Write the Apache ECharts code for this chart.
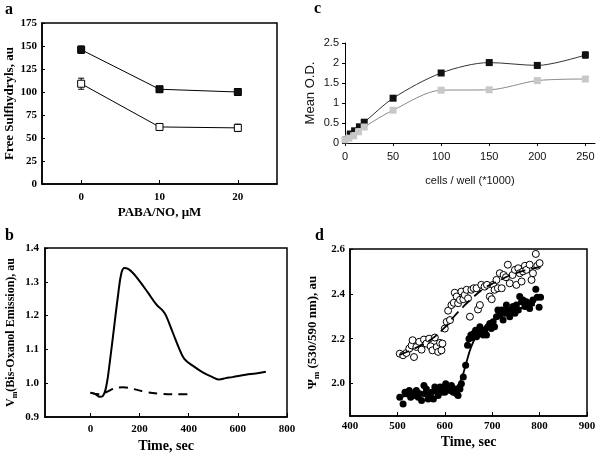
<!DOCTYPE html>
<html><head><meta charset="utf-8">
<script src="https://cdn.jsdelivr.net/npm/echarts@6/dist/echarts.min.js"></script>
<style>html,body{margin:0;padding:0;background:#fff}#c{width:600px;height:454px}</style>
</head><body><div id="c"></div>
<script>
// ---- Panel a ----
const aX = [0, 10, 20];
const aFilled = [146, 103, 100];
const aFilledErr = [4, 3, 3];
const aOpen = [109, 62, 61];
const aOpenErr = [6, 3, 4];
const aXTicks = [0, 10, 20];

// ---- Panel c ----
const cBlackX = [0, 4.5, 9, 14, 20, 50, 100, 150, 200, 250];
const cBlack = [0.1, 0.25, 0.33, 0.43, 0.52, 1.12, 1.75, 2.01, 1.94, 2.2];
const cBlackErr = [0, 0, 0, 0, 0, 0.04, 0.05, 0.07, 0.07, 0.08];
const cGrayX = [0, 4, 9, 14, 20, 50, 100, 150, 200, 250];
const cGray = [0.08, 0.12, 0.18, 0.28, 0.4, 0.82, 1.32, 1.33, 1.56, 1.6];
const cXTicks = [0, 50, 100, 150, 200, 250];

// ---- Panel b ----
const bSolidX = [0, 20, 38, 50, 65, 80, 92, 112, 126, 139, 153, 173, 200, 234, 268, 295, 308, 335, 362, 382, 416, 457, 497, 524, 551, 578, 632, 673, 714];
const bSolid = [0.972, 0.968, 0.960, 0.962, 0.993, 1.07, 1.14, 1.258, 1.326, 1.341, 1.338, 1.326, 1.302, 1.268, 1.233, 1.214, 1.199, 1.15, 1.101, 1.072, 1.052, 1.032, 1.018, 1.011, 1.015, 1.018, 1.025, 1.029, 1.034];
const bDashX = [0, 38, 65, 99, 132, 173, 227, 281, 335, 400];
const bDash = [0.972, 0.967, 0.974, 0.985, 0.988, 0.983, 0.974, 0.969, 0.967, 0.967];
const bXTicks = [0, 200, 400, 600, 800];

// ---- Panel d ----
const dOpenX = [505, 512, 519, 525, 530, 532, 535, 540, 546, 551, 556, 561, 567, 570, 574, 579, 583, 586, 590, 593, 595, 600, 604, 607, 611, 614, 619, 621, 625, 628, 632, 635, 639, 642, 646, 649, 653, 656, 661, 667, 670, 674, 677, 684, 689, 695, 699, 702, 705, 709, 712, 716, 720, 724, 729, 733, 737, 743, 748, 751, 755, 758, 762, 765, 769, 772, 779, 783, 786, 792, 795, 800];
const dOpen = [2.133, 2.126, 2.136, 2.156, 2.17, 2.193, 2.118, 2.163, 2.186, 2.151, 2.196, 2.178, 2.2, 2.166, 2.148, 2.205, 2.163, 2.141, 2.181, 2.148, 2.178, 2.245, 2.275, 2.325, 2.283, 2.35, 2.36, 2.405, 2.388, 2.358, 2.373, 2.41, 2.376, 2.395, 2.418, 2.38, 2.298, 2.418, 2.425, 2.425, 2.33, 2.35, 2.44, 2.432, 2.44, 2.388, 2.376, 2.44, 2.418, 2.462, 2.425, 2.492, 2.425, 2.484, 2.474, 2.53, 2.447, 2.484, 2.507, 2.44, 2.514, 2.492, 2.455, 2.5, 2.525, 2.507, 2.53, 2.462, 2.492, 2.578, 2.525, 2.537];
const dFilledX = [505, 512, 516, 519, 525, 528, 533, 537, 540, 544, 547, 551, 556, 558, 561, 565, 569, 572, 576, 579, 583, 586, 590, 593, 597, 600, 602, 607, 611, 614, 618, 621, 625, 628, 632, 635, 639, 644, 648, 651, 655, 658, 661, 665, 667, 670, 674, 677, 681, 684, 688, 691, 695, 698, 702, 705, 709, 712, 716, 720, 723, 727, 730, 733, 737, 741, 744, 748, 751, 755, 758, 762, 765, 769, 772, 776, 779, 783, 786, 792, 795, 799, 802];
const dFilled = [1.939, 1.909, 1.961, 1.954, 1.969, 1.939, 1.957, 1.946, 1.969, 1.939, 1.954, 1.924, 1.991, 1.954, 1.976, 1.931, 1.946, 1.961, 1.931, 1.984, 1.966, 1.946, 1.984, 1.961, 1.984, 1.961, 1.999, 1.984, 1.969, 1.991, 1.961, 1.976, 1.954, 1.946, 1.976, 1.999, 2.029, 2.081, 2.171, 2.2, 2.216, 2.205, 2.223, 2.238, 2.208, 2.231, 2.253, 2.223, 2.216, 2.238, 2.216, 2.253, 2.268, 2.245, 2.275, 2.253, 2.298, 2.328, 2.305, 2.328, 2.283, 2.313, 2.35, 2.328, 2.298, 2.32, 2.343, 2.313, 2.35, 2.328, 2.388, 2.365, 2.373, 2.343, 2.365, 2.35, 2.335, 2.36, 2.373, 2.42, 2.385, 2.34, 2.385];
const dOpenFitX = [505, 540, 570, 600, 620, 640, 660, 680, 700, 720, 740, 770, 800];
const dOpenFit = [2.128, 2.16, 2.195, 2.25, 2.3, 2.345, 2.385, 2.42, 2.445, 2.465, 2.485, 2.505, 2.52];
const dFilledFitX = [505, 540, 580, 610, 625, 635, 645, 655, 665, 680, 700, 720, 750, 790];
const dFilledFit = [1.94, 1.95, 1.96, 1.97, 1.985, 2.02, 2.09, 2.16, 2.205, 2.245, 2.28, 2.305, 2.33, 2.35];
const dYTicks = [2.0, 2.2, 2.4, 2.6];

const zip = (xs, ys) => xs.map((x, i) => [x, ys[i]]);
const SERIF = '"Liberation Serif", "Times New Roman", serif';
const SANS = '"Liberation Sans", Arial, sans-serif';

function errBars(xi, yi, xs, ys, es, cap, color) {
  return {
    type: 'custom', xAxisIndex: xi, yAxisIndex: yi, z: 1,
    data: xs.map((x, i) => [x, ys[i], es[i]]),
    renderItem: (params, api) => {
      const x = api.value(0), y = api.value(1), e = api.value(2);
      const p1 = api.coord([x, y - e]), p2 = api.coord([x, y + e]);
      return { type: 'group', children: [
        { type: 'line', shape: { x1: p1[0], y1: p1[1], x2: p2[0], y2: p2[1] }, style: { stroke: color, lineWidth: 1 } },
        { type: 'line', shape: { x1: p1[0] - cap, y1: p1[1], x2: p1[0] + cap, y2: p1[1] }, style: { stroke: color, lineWidth: 1 } },
        { type: 'line', shape: { x1: p2[0] - cap, y1: p2[1], x2: p2[0] + cap, y2: p2[1] }, style: { stroke: color, lineWidth: 1 } }
      ] };
    }
  };
}

const serifLabel = { fontFamily: SERIF, fontWeight: 'bold', fontSize: 11, color: '#000' };
const serifName = { fontFamily: SERIF, fontWeight: 'bold', fontSize: 13, color: '#000' };
const blackLine = { onZero: false, lineStyle: { color: '#000', width: 1.5 } };
const rich = (fs) => ({
  a: { fontFamily: SERIF, fontWeight: 'bold', fontSize: fs, color: '#000' },
  s: { fontFamily: SERIF, fontWeight: 'bold', fontSize: fs - 4, color: '#000', padding: [8, 0, 0, 0] }
});

const chart = echarts.init(document.getElementById('c'));
chart.setOption({
  backgroundColor: '#fff',
  animation: false,
  graphic: [
    { type: 'text', left: 5, top: 2, style: { text: 'a', font: 'bold 16px ' + SERIF, fill: '#000' } },
    { type: 'text', left: 314, top: 1, style: { text: 'c', font: 'bold 16px ' + SERIF, fill: '#000' } },
    { type: 'text', left: 5, top: 228, style: { text: 'b', font: 'bold 16px ' + SERIF, fill: '#000' } },
    { type: 'text', left: 315, top: 228, style: { text: 'd', font: 'bold 16px ' + SERIF, fill: '#000' } }
  ],
  grid: [
    { left: 42, top: 23, width: 235, height: 161, show: true, borderColor: '#000', borderWidth: 1.5 },
    { left: 345, top: 43, width: 250, height: 100 },
    { left: 45, top: 248, width: 242, height: 170, show: true, borderColor: '#000', borderWidth: 1.5 },
    { left: 350, top: 249, width: 237, height: 167, show: true, borderColor: '#000', borderWidth: 1.5 }
  ],
  xAxis: [
    { gridIndex: 0, type: 'value', min: -5, max: 25, splitLine: { show: false }, axisLine: blackLine,
      axisTick: { inside: true, length: 4, customValues: aXTicks, lineStyle: { color: '#000' } },
      axisLabel: Object.assign({ customValues: aXTicks, margin: 8 }, serifLabel),
      name: 'PABA/NO, μM', nameLocation: 'middle', nameGap: 22, nameTextStyle: serifName },
    { gridIndex: 1, type: 'value', min: 0, max: 260, splitLine: { show: false },
      axisLine: { onZero: false, lineStyle: { color: '#000', width: 1 } },
      axisTick: { length: 3, customValues: cXTicks, lineStyle: { color: '#000' } },
      axisLabel: { customValues: cXTicks, margin: 8, fontFamily: SANS, fontSize: 11, color: '#111' },
      name: 'cells / well (*1000)', nameLocation: 'middle', nameGap: 32,
      nameTextStyle: { fontFamily: SANS, fontSize: 11, color: '#111' } },
    { gridIndex: 2, type: 'value', min: -185, max: 800, splitLine: { show: false }, axisLine: blackLine,
      axisTick: { inside: true, length: 4, customValues: bXTicks, lineStyle: { color: '#000' } },
      axisLabel: Object.assign({ customValues: bXTicks, margin: 7 }, serifLabel),
      name: 'Time, sec', nameLocation: 'middle', nameGap: 22, nameTextStyle: Object.assign({}, serifName, { fontSize: 14 }) },
    { gridIndex: 3, type: 'value', min: 400, max: 900, interval: 100, splitLine: { show: false }, axisLine: blackLine,
      axisTick: { inside: true, length: 4, lineStyle: { color: '#000' } },
      axisLabel: Object.assign({ margin: 5 }, serifLabel),
      name: 'Time, sec', nameLocation: 'middle', nameGap: 19, nameTextStyle: Object.assign({}, serifName, { fontSize: 14 }) }
  ],
  yAxis: [
    { gridIndex: 0, type: 'value', min: 0, max: 175, interval: 25, splitLine: { show: false }, axisLine: blackLine,
      axisTick: { inside: true, length: 3, lineStyle: { color: '#000' } },
      axisLabel: Object.assign({ margin: 5 }, serifLabel),
      name: 'Free Sulfhydryls, au', nameLocation: 'middle', nameGap: 25, nameTextStyle: serifName },
    { gridIndex: 1, type: 'value', min: 0, max: 2.5, interval: 0.5, splitLine: { show: false },
      axisLine: { show: true, onZero: false, lineStyle: { color: '#000', width: 1 } },
      axisTick: { show: true, length: 3, lineStyle: { color: '#000' } },
      axisLabel: { margin: 6, fontFamily: SANS, fontSize: 11, color: '#111' },
      name: 'Mean O.D.', nameLocation: 'middle', nameGap: 28,
      nameTextStyle: { fontFamily: SANS, fontSize: 13, color: '#111' } },
    { gridIndex: 2, type: 'value', min: 0.9, max: 1.4, interval: 0.1, splitLine: { show: false }, axisLine: blackLine,
      axisTick: { inside: true, length: 3, lineStyle: { color: '#000' } },
      axisLabel: Object.assign({ margin: 6, formatter: v => v.toFixed(1) }, serifLabel),
      name: '{a|V}{s|m}{a|(Bis-Oxanol Emission), au}', nameLocation: 'middle', nameGap: 26,
      nameTextStyle: Object.assign({ rich: rich(12) }, serifName) },
    { gridIndex: 3, type: 'value', min: 1.855, max: 2.6, splitLine: { show: false }, axisLine: blackLine,
      axisTick: { inside: true, length: 3, customValues: dYTicks, lineStyle: { color: '#000' } },
      axisLabel: Object.assign({ margin: 5, customValues: dYTicks, formatter: v => v.toFixed(1) }, serifLabel),
      name: '{a|Ψ}{s|m}{a| (530/590 nm), au}', nameLocation: 'middle', nameGap: 29,
      nameTextStyle: Object.assign({ rich: rich(13) }, serifName) }
  ],
  series: [
    // panel a
    errBars(0, 0, aX, aFilled, aFilledErr, 3, '#000'),
    errBars(0, 0, aX, aOpen, aOpenErr, 3, '#000'),
    { type: 'line', xAxisIndex: 0, yAxisIndex: 0, data: zip(aX, aFilled), symbol: 'rect', symbolSize: 7,
      itemStyle: { color: '#111', borderColor: '#000', borderWidth: 1 }, lineStyle: { color: '#000', width: 1 }, z: 3 },
    { type: 'line', xAxisIndex: 0, yAxisIndex: 0, data: zip(aX, aOpen), symbol: 'rect', symbolSize: 7,
      itemStyle: { color: '#fff', borderColor: '#000', borderWidth: 1 }, lineStyle: { color: '#000', width: 1 }, z: 3 },
    // panel c
    errBars(1, 1, cBlackX, cBlack, cBlackErr, 2.5, '#333'),
    { type: 'line', xAxisIndex: 1, yAxisIndex: 1, data: zip(cBlackX, cBlack), smooth: 0.3, symbol: 'rect',
      symbolSize: v => (v[0] < 18 ? 5 : 7),
      itemStyle: { color: '#111' }, lineStyle: { color: '#333', width: 1 }, z: 3 },
    { type: 'line', xAxisIndex: 1, yAxisIndex: 1, data: zip(cGrayX, cGray), smooth: 0.3, symbol: 'rect', symbolSize: 7,
      itemStyle: { color: '#c8c8c8' }, lineStyle: { color: '#8a8a8a', width: 1 }, z: 4 },
    // panel b
    { type: 'line', xAxisIndex: 2, yAxisIndex: 2, data: zip(bSolidX, bSolid), smooth: 0.4, symbol: 'none',
      lineStyle: { color: '#000', width: 2 } },
    { type: 'line', xAxisIndex: 2, yAxisIndex: 2, data: zip(bDashX, bDash), smooth: 0.4, symbol: 'none',
      lineStyle: { color: '#000', width: 2, type: [9, 6] } },
    // panel d
    { type: 'scatter', xAxisIndex: 3, yAxisIndex: 3, data: zip(dOpenX, dOpen), symbol: 'circle', symbolSize: 7,
      itemStyle: { color: '#fff', borderColor: '#000', borderWidth: 1, opacity: 1 } },
    { type: 'scatter', xAxisIndex: 3, yAxisIndex: 3, data: zip(dFilledX, dFilled), symbol: 'circle', symbolSize: 7,
      itemStyle: { color: '#000', opacity: 1 } },
    { type: 'line', xAxisIndex: 3, yAxisIndex: 3, data: zip(dOpenFitX, dOpenFit), smooth: 0.4, symbol: 'none',
      lineStyle: { color: '#000', width: 1.8, type: [10, 6] }, z: 5 },
    { type: 'line', xAxisIndex: 3, yAxisIndex: 3, data: zip(dFilledFitX, dFilledFit), smooth: 0.4, symbol: 'none',
      lineStyle: { color: '#000', width: 1.8 }, z: 5 }
  ]
});
</script></body></html>
